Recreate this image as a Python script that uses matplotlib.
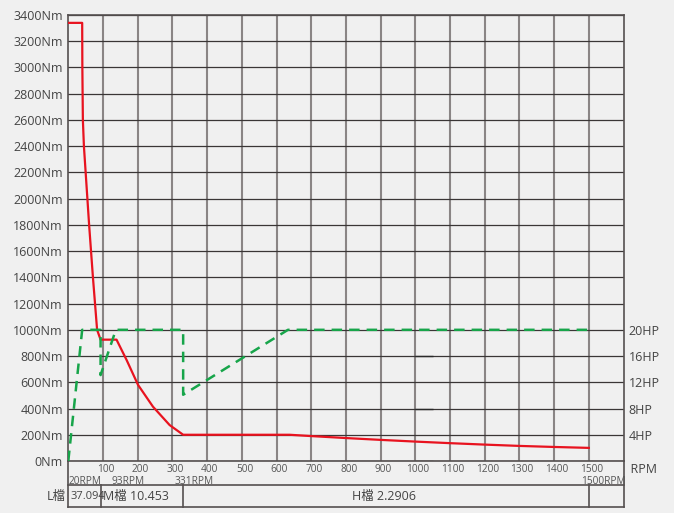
import matplotlib
matplotlib.use("Agg")
import matplotlib.pyplot as plt

plt.rcParams['font.family'] = ['Open Sans', 'Noto Sans CJK TC', 'DejaVu Sans']

######################################################################################################################
# DATI

# Curva di coppia (RPM, Nm)
rpm_coppia = [0, 40, 40.5, 42, 45, 50, 60, 71, 83, 93, 139, 168, 201, 244, 292, 331,
              638, 700, 800, 900, 1000, 1100, 1200, 1300, 1400, 1500]
coppia = [3340, 3340, 3000, 2600, 2400, 2200, 1800, 1400, 1000, 925, 925, 770, 580, 414, 274, 200,
          200, 190, 175, 161, 148, 136, 125, 115, 107, 100]

# Curva di potenza (RPM, HP)
rpm_potenza = [0, 40, 93, 93, 137, 331, 331, 633, 1500]
potenza = [0, 20, 20, 13.1, 20, 20, 10.1, 20, 20]

# Assi ed etichette
tick_rpm = list(range(100, 1600, 100))
tick_nm = list(range(0, 3600, 200))
tick_hp = [4, 8, 12, 16, 20]

# Marce
marce_rpm = [20, 93, 331, 1500]
etichette_rpm = ['20RPM', '93RPM', '331RPM', '1500RPM']
pos_etichette_rpm = [2, 125, 307, 1478]
marce_testi = ['37.094', 'M檔 10.453', 'H檔 2.2906']
pos_marce_testi = [5, 100, 817]

######################################################################################################################
# COLORI

SFONDO = '#f0f0f0'
TESTO = '#444444'
GRIGLIA_H = '#3a3636'
GRIGLIA_V = '#8a8585'
ROSSO = '#e8131f'
VERDE = '#17a54a'

fig = plt.figure(figsize=(6.74, 5.13), dpi=100, facecolor=SFONDO)
ax = fig.add_axes([68.3 / 674, 52 / 513, 555.2 / 674, 446 / 513])
ax.set_facecolor(SFONDO)
ax.set_xlim(0, 1600)
ax.set_ylim(0, 3400)

# Griglia
for r in tick_rpm:
    ax.axvline(r, color=GRIGLIA_V, lw=1.5, zorder=1)
for n in tick_nm:
    ax.axhline(n, color=GRIGLIA_H, lw=0.9, zorder=1)
ax.hlines([0, 400, 800], 1000, 1050, color='#2a2a2a', lw=1.0, zorder=1)

for s in ax.spines.values():
    s.set_color('#555050')
    s.set_linewidth(1.2)

# Asse sinistro
ax.set_yticks(tick_nm)
ax.set_yticklabels([f'{n}Nm' for n in tick_nm], fontsize=9, color=TESTO)
ax.tick_params(axis='y', length=0, pad=3.8)
ax.set_xticks([])

# Curva di coppia
ax.plot(rpm_coppia, coppia, color=ROSSO, lw=1.6, zorder=4)

# Asse destro (potenza)
ax2 = ax.twinx()
ax2.set_ylim(0, 3400 / 50)
ax2.set_yticks(tick_hp)
ax2.set_yticklabels([f'{h}HP' for h in tick_hp], fontsize=9, color=TESTO)
ax2.tick_params(axis='y', length=0, pad=3.8)
for s in ax2.spines.values():
    s.set_visible(False)
ax2.plot(rpm_potenza, potenza, color=VERDE, lw=1.8, dashes=(4.2, 2.8), zorder=3)

tr = ax.get_xaxis_transform()
ax.text(1600, -0.005, '  RPM', transform=tr, ha='left', va='top', fontsize=9, color=TESTO)

# Etichette RPM
for r in tick_rpm:
    ax.text(r + 8, -0.018, str(r), transform=tr, ha='center', va='center', fontsize=7.3, color='#555555')
for p, t in zip(pos_etichette_rpm, etichette_rpm):
    ax.text(p, -0.045, t, transform=tr, ha='left', va='center', fontsize=7.3, color='#555555')

# Fascia delle marce
y_alto, y_basso = -0.0549, -0.1031
kw = dict(transform=tr, color='#555050', lw=1.2, clip_on=False)
ax.plot([0, 1600], [y_alto, y_alto], **kw)
ax.plot([0, 1600], [y_basso, y_basso], **kw)
ax.plot([0, 0], [0, y_basso], **kw)
ax.plot([1600, 1600], [0, y_basso], **kw)
for r in marce_rpm[1:]:
    ax.plot([r, r], [y_alto, y_basso], **kw)

ax.text(-7, -0.079, 'L檔', transform=tr, ha='right', va='center', fontsize=9, color=TESTO)
ax.text(pos_marce_testi[0], -0.079, marce_testi[0], transform=tr, ha='left', va='center',
        fontsize=8, color=TESTO)
for p, t in zip(pos_marce_testi[1:], marce_testi[1:]):
    ax.text(p, -0.079, t, transform=tr, ha='left', va='center', fontsize=9, color=TESTO)

fig.savefig('out.png', dpi=100, facecolor=SFONDO)
